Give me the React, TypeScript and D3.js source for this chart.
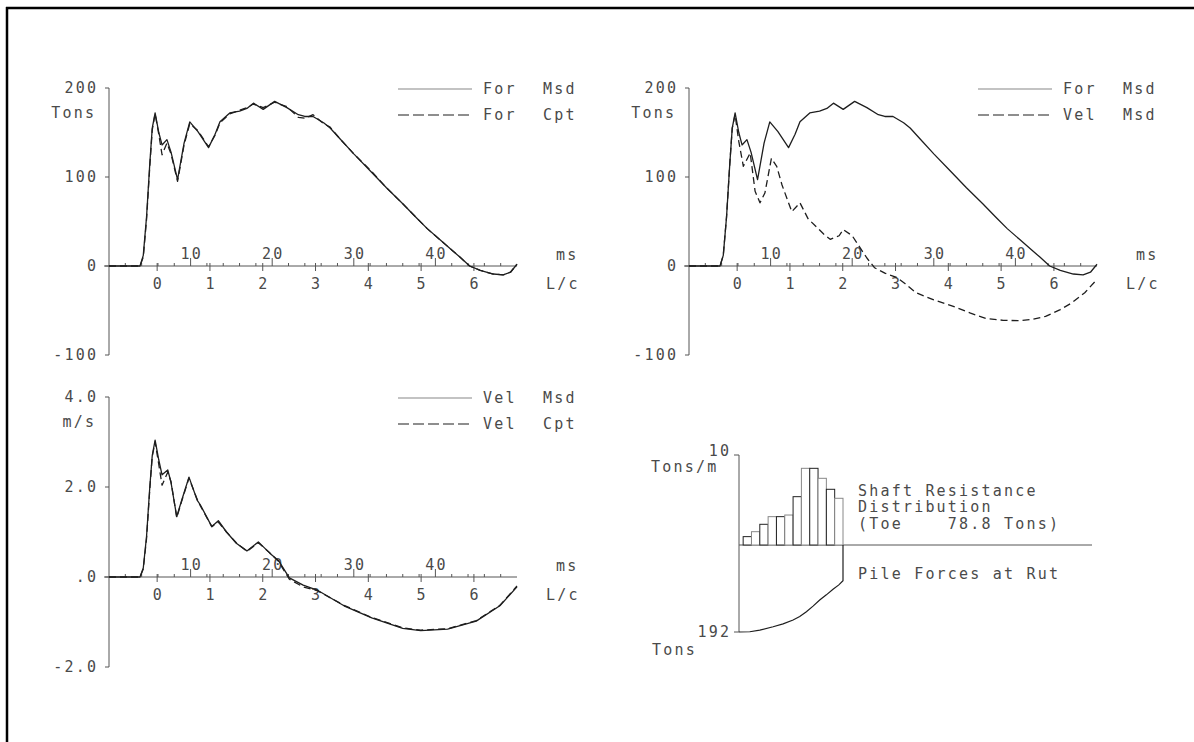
import React from 'react';
import * as d3 from 'd3';

const FONT = '"DejaVu Sans Mono", "Liberation Mono", monospace';
const FS = 15;
const LS = 2.2;
const TXT = '#4a4a4a';
const INK = '#1e1e1e';
const AX = '#555';

// ---------- Data ----------
// Force (tons) sampled in ms
const forceTime = [0, 3.8, 4.2, 4.6, 5.0, 5.3, 5.65, 6.1, 6.5, 7.1, 7.6, 8.4, 9.2, 9.9, 10.9, 12.2, 13.0, 13.6, 14.8, 16.0, 16.9, 17.7, 18.9, 20.3, 21.8, 23.2, 24.0, 25.0, 26.3, 27.1, 28.3, 30.0, 32.0, 34.0, 36.0, 37.7, 39.0, 40.5, 42.0, 43.0, 44.2, 45.5, 47.1, 48.3, 49.2, 50.0];
const forceMsd = [0, 0, 12, 55, 115, 155, 172, 150, 136, 142, 128, 97, 138, 162, 151, 133, 148, 162, 172, 174, 177, 183, 176, 185, 178, 170, 168, 168, 161, 155, 143, 126, 107, 88, 70, 54, 42, 30, 18, 10, 0, -5, -9, -10, -7, 2];
const forceCpt = [0, 0, 10, 52, 112, 153, 171, 148, 125, 138, 126, 95, 136, 160, 152, 134, 147, 161, 171, 175, 178, 182, 178, 184, 179, 167, 166, 170, 160, 156, 143, 126, 108, 88, 70, 54, 42, 30, 18, 10, 0, -5, -9, -10, -7, 2];

// Velocity x impedance (tons) sampled in ms
const velForceTime = [0, 3.8, 4.2, 4.6, 5.0, 5.3, 5.65, 6.1, 6.66, 7.5, 8.1, 8.7, 9.3, 10.1, 10.75, 11.4, 12.6, 13.6, 14.6, 15.5, 16.5, 17.3, 18.4, 18.9, 20.0, 21.0, 21.8, 22.75, 24.0, 25.5, 26.5, 27.8, 30.0, 32.3, 34.5, 36.4, 38.5, 40.5, 42.0, 43.7, 45.5, 46.9, 48.5, 50.0];
const velForceMsd = [0, 0, 12, 55, 115, 155, 170, 140, 112, 127, 84, 71, 82, 121, 112, 91, 61, 71, 53, 45, 36, 30, 34, 41, 34, 20, 9, -2, -8, -13, -20, -30, -38, -45, -53, -59, -61, -61.5, -60, -56.6, -49, -41.5, -30, -15];

// Velocity (m/s) sampled in ms
const velTime = [0, 3.8, 4.2, 4.6, 5.0, 5.3, 5.65, 6.1, 6.5, 7.2, 7.6, 8.3, 8.9, 9.8, 10.8, 11.2, 12.6, 13.4, 14.4, 15.6, 16.9, 18.3, 19.7, 20.8, 22.1, 23.8, 25.5, 28.8, 32.2, 36.0, 38.2, 41.5, 45.0, 47.9, 50.0];
const velMsd = [0, 0, 0.2, 0.9, 2.0, 2.7, 3.04, 2.6, 2.27, 2.38, 2.1, 1.34, 1.7, 2.22, 1.71, 1.6, 1.12, 1.25, 1.0, 0.75, 0.58, 0.78, 0.53, 0.36, -0.02, -0.18, -0.29, -0.64, -0.91, -1.14, -1.19, -1.16, -0.98, -0.64, -0.22];
const velCpt = [0, 0, 0.18, 0.85, 1.95, 2.68, 3.0, 2.5, 2.04, 2.33, 2.12, 1.32, 1.68, 2.2, 1.73, 1.58, 1.12, 1.22, 1.0, 0.76, 0.57, 0.76, 0.54, 0.34, -0.05, -0.22, -0.3, -0.63, -0.9, -1.13, -1.18, -1.15, -0.97, -0.63, -0.2];

// Axis tick definitions
const msLabels = [10, 20, 30, 40];
const msMinor = [2, 4, 6, 8, 12, 14, 16, 18, 22, 24, 26, 28, 32, 34, 36, 38, 42, 44, 46, 48];
const lcLabels = [0, 1, 2, 3, 4, 5, 6];
const LC_ZERO_MS = 5.9;
const LC_MS = 6.47;
const forceTicks = [200, 100, 0, -100];
const forceTickText = ['200', '100', '0', '-100'];
const velTicks = [4, 2, 0, -2];
const velTickText = ['4.0', '2.0', '.0', '-2.0'];

// Shaft resistance distribution (tons/m) per segment
const segIndex = [1, 2, 3, 4, 5, 6, 7, 8, 9, 10, 11, 12];
const shaftRes = [0.93, 1.48, 2.3, 3.15, 3.15, 3.33, 5.37, 8.52, 8.52, 7.41, 6.19, 5.19];
// Pile forces at ultimate (tons) along pile
const pileDepth = [0, 1.3, 2.5, 4.1, 5.3, 6.5, 7.3, 8.1, 8.9, 9.7, 10.5, 11.3, 12.0, 12.5, 12.5];
const pileForce = [192, 191.4, 188, 180.4, 174, 165.6, 158, 147.3, 135, 121.4, 110, 97.8, 88, 79, 0];

// ---------- Components ----------
type Series = { t: number[]; v: number[]; dashed: boolean };

function T(props: any) {
  const { x, y, anchor = 'start', children, ...rest } = props;
  let dx = 0;
  if (anchor === 'end') dx = LS;
  if (anchor === 'middle') dx = LS / 2;
  return (
    <text x={x + dx} y={y} textAnchor={anchor} fontFamily={FONT} fontSize={FS}
      letterSpacing={LS} fill={TXT} style={{ whiteSpace: 'pre' }} {...rest}>{children}</text>
  );
}

function TimePanel(props: {
  ox: number; top: number; bottom: number; yMax: number; yMin: number;
  ticks: number[]; tickText: string[]; unit: string;
  series: Series[]; legend: [string, string][];
}) {
  const { ox, top, bottom, yMax, yMin, ticks, tickText, unit, series, legend } = props;
  const x = d3.scaleLinear().domain([0, 50]).range([ox, ox + 408]);
  const y = d3.scaleLinear().domain([yMax, yMin]).range([top, bottom]);
  const y0 = y(0);
  const lcX = (lc: number) => x(LC_ZERO_MS + lc * LC_MS);
  return (
    <g>
      {/* y axis */}
      <line x1={ox} y1={top} x2={ox} y2={bottom} stroke={AX} strokeWidth={1} />
      {ticks.map((tk, i) => (
        <g key={'yt' + i}>
          <line x1={ox - 4} x2={ox} y1={y(tk)} y2={y(tk)} stroke={AX} />
          <T x={ox - 13} y={y(tk) + 5} anchor="end">{tickText[i]}</T>
        </g>
      ))}
      <T x={ox - 15} y={top + 25 + 5} anchor="end">{unit}</T>
      {/* x axis */}
      <line x1={ox - 5} x2={ox + 408} y1={y0} y2={y0} stroke={AX} />
      {msMinor.map((m) => (
        <line key={'mn' + m} x1={x(m)} x2={x(m)} y1={y0 - 3} y2={y0} stroke={AX} />
      ))}
      {msLabels.map((m) => (
        <g key={'ml' + m}>
          <line x1={x(m)} x2={x(m)} y1={y0 - 8} y2={y0} stroke={AX} />
          <T x={x(m)} y={y0 - 7} anchor="middle">{String(m)}</T>
        </g>
      ))}
      {lcLabels.map((l) => (
        <g key={'lc' + l}>
          <line x1={lcX(l)} x2={lcX(l)} y1={y0 - 3} y2={y0 + 5} stroke={AX} />
          <T x={lcX(l)} y={y0 + 23} anchor="middle">{String(l)}</T>
        </g>
      ))}
      <T x={ox + 447} y={y0 - 6}>ms</T>
      <T x={ox + 437} y={y0 + 23}>L/c</T>
      {/* curves */}
      {series.map((s, i) => {
        const pts = s.t.map((tt, k) => [tt, s.v[k]] as [number, number]);
        const path = d3.line<[number, number]>().x((d) => x(d[0])).y((d) => y(d[1]))(pts) || '';
        return (
          <path key={'s' + i} d={path} fill="none" stroke={INK} strokeWidth={1.3}
            strokeDasharray={s.dashed ? '7,4' : undefined} strokeLinejoin="round" />
        );
      })}
      {/* legend */}
      {legend.map((lg, i) => {
        const ly = top + 1 + i * 26;
        return (
          <g key={'lg' + i}>
            <line x1={ox + 289} x2={ox + 363} y1={ly} y2={ly} stroke={i === 0 ? '#888' : INK}
              strokeWidth={1.2} strokeDasharray={i === 0 ? undefined : '11,4'} />
            <T x={ox + 374} y={ly + 5}>{lg[0]}</T>
            <T x={ox + 434} y={ly + 5}>{lg[1]}</T>
          </g>
        );
      })}
    </g>
  );
}

function ResistancePanel() {
  const ax = 739;
  const d = d3.scaleLinear().domain([0, 12.5]).range([ax, 843]);
  const r = d3.scaleLinear().domain([0, 10]).range([545, 455]);
  const f = d3.scaleLinear().domain([0, 192]).range([545, 632]);
  const pts = pileDepth.map((dd, i) => [dd, pileForce[i]] as [number, number]);
  const path = d3.line<[number, number]>().x((p) => d(p[0])).y((p) => f(p[1]))(pts) || '';
  return (
    <g>
      <line x1={ax} x2={ax} y1={455} y2={632} stroke={AX} />
      <line x1={ax - 5} x2={ax} y1={455} y2={455} stroke={AX} />
      <line x1={ax - 5} x2={ax} y1={632} y2={632} stroke={AX} />
      <line x1={ax} x2={1092} y1={545} y2={545} stroke={AX} />
      <T x={729} y={456} anchor="end">10</T>
      <T x={651} y={472}>Tons/m</T>
      <T x={729} y={637} anchor="end">192</T>
      <T x={652} y={655}>Tons</T>
      {segIndex.map((s, i) => (
        <rect key={'b' + s} x={d(s - 0.5)} y={r(shaftRes[i])} width={d(s + 0.5) - d(s - 0.5)}
          height={545 - r(shaftRes[i])} fill="#fff" stroke={i % 2 === 0 ? '#222' : '#888'} strokeWidth={1} />
      ))}
      <path d={path} fill="none" stroke={INK} strokeWidth={1.2} />
      <T x={858} y={496}>Shaft Resistance</T>
      <T x={858} y={512}>Distribution</T>
      <T x={858} y={529}>{'(Toe    78.8 Tons)'}</T>
      <T x={858} y={579}>Pile Forces at Rut</T>
    </g>
  );
}

export default function App() {
  return (
    <svg width={1194} height={742} style={{ position: 'absolute', left: 0, top: 0, background: '#fff' }}>
      <rect x={0} y={0} width={1194} height={742} fill="#fff" />
      <line x1={6} x2={1194} y1={8} y2={8} stroke="#000" strokeWidth={2.5} />
      <line x1={7} x2={7} y1={7} y2={742} stroke="#000" strokeWidth={2.5} />
      <TimePanel ox={109} top={88} bottom={355} yMax={200} yMin={-100}
        ticks={forceTicks} tickText={forceTickText} unit="Tons"
        series={[{ t: forceTime, v: forceMsd, dashed: false }, { t: forceTime, v: forceCpt, dashed: true }]}
        legend={[['For', 'Msd'], ['For', 'Cpt']]} />
      <TimePanel ox={689} top={88} bottom={355} yMax={200} yMin={-100}
        ticks={forceTicks} tickText={forceTickText} unit="Tons"
        series={[{ t: forceTime, v: forceMsd, dashed: false }, { t: velForceTime, v: velForceMsd, dashed: true }]}
        legend={[['For', 'Msd'], ['Vel', 'Msd']]} />
      <TimePanel ox={109} top={397} bottom={667} yMax={4} yMin={-2}
        ticks={velTicks} tickText={velTickText} unit="m/s"
        series={[{ t: velTime, v: velMsd, dashed: false }, { t: velTime, v: velCpt, dashed: true }]}
        legend={[['Vel', 'Msd'], ['Vel', 'Cpt']]} />
      <ResistancePanel />
    </svg>
  );
}
